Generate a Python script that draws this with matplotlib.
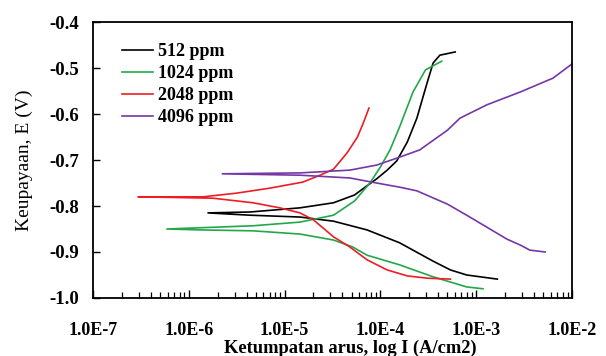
import numpy as np
import matplotlib
matplotlib.use("Agg")
import matplotlib.pyplot as plt
from matplotlib.ticker import FixedLocator, FixedFormatter, NullFormatter

# ---- data (log10 of current density in A/cm2, potential in V) ----
series_labels = ["512 ppm", "1024 ppm", "2048 ppm", "4096 ppm"]
series_colors = ["#000000", "#22a84a", "#ee1c25", "#7636a6"]

logi_512 = [-2.78, -3.10, -3.27, -3.45, -3.80, -4.14, -4.49, -4.84, -5.36, -5.80,
            -5.36, -4.84, -4.49, -4.27, -4.14, -4.04, -3.93, -3.83, -3.72, -3.62,
            -3.51, -3.45, -3.38, -3.22]
e_512 = [-0.959, -0.950, -0.939, -0.920, -0.880, -0.852, -0.833, -0.824, -0.820, -0.815,
         -0.813, -0.804, -0.793, -0.776, -0.756, -0.741, -0.722, -0.702, -0.661, -0.609,
         -0.530, -0.489, -0.472, -0.465]

logi_1024 = [-2.93, -3.10, -3.45, -3.80, -4.14, -4.29, -4.49, -4.84, -5.33, -5.88, -6.23,
             -5.33, -4.84, -4.49, -4.27, -4.11, -4.00, -3.90, -3.80, -3.66, -3.53, -3.36]
e_1024 = [-0.980, -0.976, -0.954, -0.928, -0.907, -0.889, -0.874, -0.861, -0.854, -0.852, -0.850,
          -0.843, -0.835, -0.820, -0.789, -0.750, -0.715, -0.678, -0.628, -0.552, -0.504, -0.485]

logi_2048 = [-3.27, -3.51, -3.72, -3.93, -4.14, -4.32, -4.49, -4.70, -4.84, -5.05, -5.33, -5.75, -6.53,
             -5.85, -5.50, -5.15, -4.81, -4.63, -4.49, -4.35, -4.24, -4.18, -4.12]
e_2048 = [-0.959, -0.957, -0.952, -0.939, -0.917, -0.889, -0.867, -0.830, -0.815, -0.804, -0.793, -0.783, -0.780,
          -0.780, -0.772, -0.761, -0.748, -0.733, -0.720, -0.685, -0.650, -0.620, -0.587]

logi_4096 = [-2.28, -2.44, -2.54, -2.68, -2.89, -3.10, -3.30, -3.62, -3.80, -4.04, -4.32, -4.84, -5.65,
             -4.84, -4.32, -4.04, -3.83, -3.59, -3.30, -3.17, -2.89, -2.54, -2.20, -2.00]
e_4096 = [-0.900, -0.896, -0.885, -0.872, -0.846, -0.820, -0.796, -0.767, -0.759, -0.750, -0.739, -0.733, -0.730,
          -0.728, -0.722, -0.711, -0.696, -0.678, -0.635, -0.609, -0.580, -0.552, -0.522, -0.491]

x_tick_values = [1e-7, 1e-6, 1e-5, 1e-4, 1e-3, 1e-2]
x_tick_labels = ["1.0E-7", "1.0E-6", "1.0E-5", "1.0E-4", "1.0E-3", "1.0E-2"]
y_tick_values = [-1.0, -0.9, -0.8, -0.7, -0.6, -0.5, -0.4]
y_tick_labels = ["-1.0", "-0.9", "-0.8", "-0.7", "-0.6", "-0.5", "-0.4"]

x_label = "Ketumpatan arus, log I (A/cm2)"
y_label = "Keupayaan, E (V)"

# ---- plot ----
plt.rcParams['font.family'] = ['Liberation Serif', 'DejaVu Serif']

fig = plt.figure(figsize=(6.06, 3.56), dpi=100)
ax = fig.add_axes([0.1535, 0.163, 0.7905, 0.775])

all_logi = [logi_512, logi_1024, logi_2048, logi_4096]
all_e = [e_512, e_1024, e_2048, e_4096]
for lg, e, lab, col in zip(all_logi, all_e, series_labels, series_colors):
    ax.plot(10 ** np.array(lg), e, color=col, lw=1.2, label=lab)

ax.set_xscale('log')
ax.set_xlim(1e-7, 1e-2)
ax.set_ylim(-1.0, -0.4)

minor_positions = [m * d for d in x_tick_values[:-1] for m in range(2, 10)]
ax.xaxis.set_major_locator(FixedLocator(x_tick_values))
ax.xaxis.set_major_formatter(FixedFormatter(x_tick_labels))
ax.xaxis.set_minor_locator(FixedLocator(minor_positions))
ax.xaxis.set_minor_formatter(NullFormatter())
ax.yaxis.set_major_locator(FixedLocator(y_tick_values))
ax.yaxis.set_major_formatter(FixedFormatter(y_tick_labels))
ax.yaxis.set_minor_locator(FixedLocator([]))

ax.tick_params(axis='x', which='major', direction='in', length=6, width=1.0, pad=17,
               labelsize=13, top=False)
ax.tick_params(axis='x', which='minor', direction='in', length=4, width=0.9, top=False)
ax.tick_params(axis='y', which='major', direction='in', length=5, width=1.0, pad=10,
               labelsize=13.5, right=False)
for lbl in ax.get_xticklabels() + ax.get_yticklabels():
    lbl.set_fontweight('bold')

for sp in ax.spines.values():
    sp.set_linewidth(1.3)

ax.set_xlabel(x_label, fontsize=13.3, fontweight='bold')
ax.xaxis.set_label_coords(0.537, -0.15)
ax.xaxis.label.set_va('top')
ax.set_ylabel(y_label, fontsize=14)
ax.yaxis.set_label_coords(-0.125, 0.5)

leg = ax.legend(loc='upper left', bbox_to_anchor=(0.045, 0.95), frameon=False,
                prop={'weight': 'bold', 'size': 13}, handlelength=1.75,
                handletextpad=0.25, labelspacing=0.28, borderaxespad=0)

fig.savefig('out.png', dpi=100)
